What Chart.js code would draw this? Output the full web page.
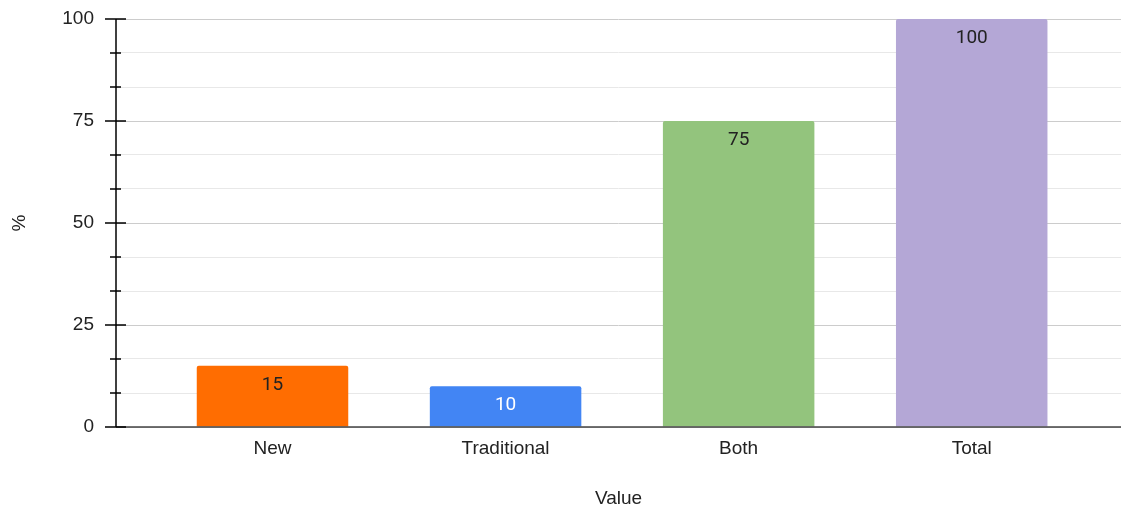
<!DOCTYPE html>
<html>
<head>
<meta charset="utf-8">
<script src="https://cdn.jsdelivr.net/npm/chart.js@4.4.0/dist/chart.umd.min.js"></script>
<style>
  body { margin: 0; background: #fff; }
  canvas { display: block; }
</style>
</head>
<body>
<canvas id="chart" width="1121" height="508"></canvas>
<script>
// Categories and values
const categories = ["New", "Traditional", "Both", "Total"];
const values = [15, 10, 75, 100];
const yTickLabels = [0, 25, 50, 75, 100];

const barColors = ["#ff6d01", "#4285f4", "#93c47d", "#b4a7d6"];
const labelColors = ["#222222", "#ffffff", "#222222", "#222222"];

const axisFont = { family: "'Liberation Sans', Arial, sans-serif", size: 19 };

// Draws the y axis line, its tick marks, the baseline and the value labels
const axesPlugin = {
  id: "axesPlugin",
  afterDatasetsDraw(chart) {
    const ctx = chart.ctx;
    const area = chart.chartArea;
    const y = chart.scales.y;
    const x0 = area.left;

    ctx.save();
    // baseline
    const yZero = y.getPixelForValue(0);
    ctx.strokeStyle = "#444";
    ctx.lineWidth = 1.5;
    ctx.beginPath();
    ctx.moveTo(x0, yZero);
    ctx.lineTo(area.right, yZero);
    ctx.stroke();

    // vertical axis
    ctx.strokeStyle = "#000";
    ctx.beginPath();
    ctx.moveTo(x0, area.top);
    ctx.lineTo(x0, area.bottom);
    ctx.stroke();

    // tick marks
    y.ticks.forEach(function (t) {
      const py = y.getPixelForValue(t.value);
      const major = yTickLabels.some(v => Math.abs(v - t.value) < 1e-6);
      ctx.beginPath();
      if (major) {
        ctx.moveTo(x0 - 11, py);
        ctx.lineTo(x0 + 10, py);
      } else {
        ctx.moveTo(x0 - 6, py);
        ctx.lineTo(x0 + 5, py);
      }
      ctx.stroke();
    });

    // value labels inside the bars
    ctx.font = "19px Roboto, sans-serif";
    ctx.textAlign = "center";
    ctx.textBaseline = "middle";
    chart.getDatasetMeta(0).data.forEach(function (bar, i) {
      ctx.fillStyle = labelColors[i];
      ctx.fillText(String(values[i]), bar.x, bar.y + 19);
    });
    ctx.restore();
  }
};

const ctx = document.getElementById("chart").getContext("2d");
new Chart(ctx, {
  type: "bar",
  data: {
    datasets: [{
      data: values.map((v, i) => ({ x: i, y: v })),
      backgroundColor: barColors,
      borderRadius: { topLeft: 2, topRight: 2, bottomLeft: 0, bottomRight: 0 },
      borderSkipped: false,
      categoryPercentage: 1,
      barPercentage: 0.65
    }]
  },
  options: {
    responsive: false,
    animation: false,
    layout: { padding: { top: 19, right: 0, left: 0, bottom: 0 } },
    plugins: {
      legend: { display: false },
      tooltip: { enabled: false }
    },
    scales: {
      x: {
        type: "linear",
        offset: false,
        min: -0.6715,
        max: 3.6405,
        afterBuildTicks(scale) {
          scale.ticks = categories.map((c, i) => ({ value: i }));
        },
        afterFit(scale) {
          scale.height = 81;
          scale.paddingLeft = 0;
          scale.paddingRight = 0;
        },
        grid: { display: false, drawTicks: false, offset: false },
        border: { display: false },
        ticks: {
          padding: 10,
          color: "#222",
          font: axisFont,
          maxRotation: 0,
          callback: (v) => categories[v]
        },
        title: {
          display: true,
          text: "Value",
          color: "#222",
          font: axisFont,
          padding: { top: 0, bottom: -2 }
        }
      },
      y: {
        min: 0,
        max: 100,
        afterFit(scale) {
          scale.width = 116;
          scale.paddingTop = 0;
          scale.paddingBottom = 0;
        },
        afterBuildTicks(scale) {
          const t = [];
          for (let i = 0; i <= 12; i++) t.push({ value: i * 100 / 12 });
          scale.ticks = t;
        },
        grid: {
          drawTicks: false,
          lineWidth: 1,
          color: (c) => {
            const v = c.tick ? c.tick.value : 0;
            return yTickLabels.some(m => Math.abs(m - v) < 1e-6) ? "#cccccc" : "#e8e8e8";
          }
        },
        border: { display: false },
        ticks: {
          padding: 22,
          color: "#222",
          font: axisFont,
          callback: (v) => {
            const m = yTickLabels.find(t => Math.abs(t - v) < 1e-6);
            return m === undefined ? "" : String(m);
          }
        },
        title: {
          display: true,
          text: "%",
          color: "#222",
          font: axisFont,
          padding: { top: 8, bottom: 0 }
        }
      }
    }
  },
  plugins: [axesPlugin]
});
</script>
</body>
</html>
